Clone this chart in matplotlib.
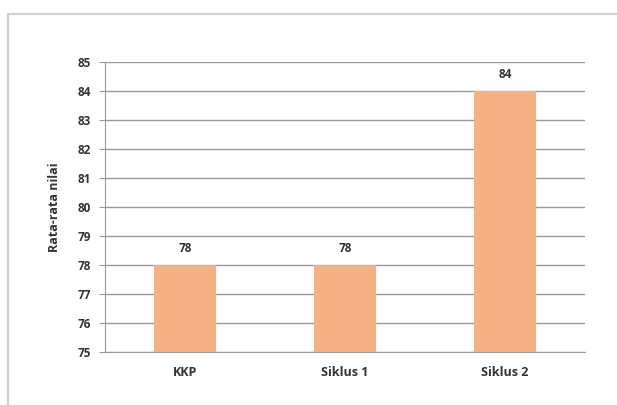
import matplotlib
matplotlib.use("Agg")
import matplotlib.pyplot as plt
from matplotlib.lines import Line2D

# data
categories = ["KKP", "Siklus 1", "Siklus 2"]
values = [78, 78, 84]
y_ticks = list(range(75, 86))

bar_color = "#F5B183"
grid_color = "#9a9a9a"

plt.rcParams["font.family"] = ["Open Sans", "DejaVu Sans"]

fig = plt.figure(figsize=(6.17, 4.05), dpi=100)
fig.patch.set_facecolor("white")

# outer frame: only left and top edges visible
fx = 8 / 617
fy = 1 - 14 / 405
fig.add_artist(Line2D([fx, fx], [0, fy], transform=fig.transFigure, color="#cfcfcf", linewidth=1.5))
fig.add_artist(Line2D([fx, 1], [fy, fy], transform=fig.transFigure, color="#cfcfcf", linewidth=1.5))

ax = fig.add_axes([0.170, 0.131, 0.778, 0.716])

x = range(len(categories))
ax.bar(x, values, width=0.39, bottom=0, color=bar_color, zorder=3)
ax.set_xlim(-0.5, len(categories) - 0.5)
ax.set_ylim(75, 85)
ax.set_yticks(y_ticks)
ax.set_yticklabels([str(t) for t in y_ticks], fontsize=8.5, fontweight="bold", color="#333333")
ax.set_xticks(list(x))
ax.set_xticklabels(categories, fontsize=9, fontweight="bold", color="#333333")

ax.yaxis.grid(True, color=grid_color, linewidth=1, zorder=0)
ax.set_axisbelow(True)

for side in ["top", "right"]:
    ax.spines[side].set_visible(False)
ax.spines["left"].set_color(grid_color)
ax.spines["bottom"].set_color(grid_color)
ax.tick_params(axis="y", length=4, color=grid_color, pad=6)
ax.tick_params(axis="x", length=0, pad=10)

for xi, v in zip(x, values):
    ax.text(xi, v + 0.35, str(v), ha="center", va="bottom", fontsize=8.5, fontweight="bold", color="#333333")

ax.set_ylabel("Rata-rata nilai", fontsize=9, fontweight="bold", color="#333333", labelpad=12)

fig.savefig("out.png", dpi=100)
